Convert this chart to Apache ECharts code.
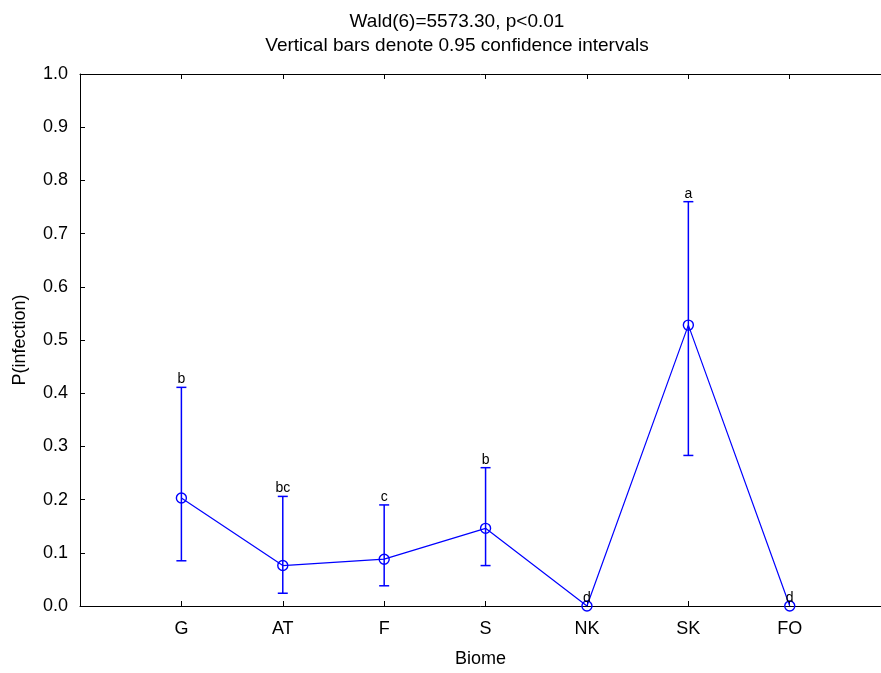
<!DOCTYPE html>
<html lang="en">
<head>
    <meta charset="UTF-8">
    <title>P(infection) by biome</title>
    <script src="https://cdn.jsdelivr.net/npm/echarts@6/dist/echarts.min.js"></script>
    <style>
        html, body { margin: 0; padding: 0; background: #fff; }
        #main { width: 881px; height: 673px; }
    </style>
</head>
<body>
<div id="main"></div>

<script type="text/javascript">
    // data
    var biomes = ['G', 'AT', 'F', 'S', 'NK', 'SK', 'FO'];
    var means = [0.203, 0.076, 0.088, 0.146, 0.0, 0.528, 0.0];
    var lower = [0.085, 0.024, 0.038, 0.076, 0.0, 0.283, 0.0];
    var upper = [0.411, 0.206, 0.190, 0.260, 0.0, 0.760, 0.0];
    var letters = ['b', 'bc', 'c', 'b', 'd', 'a', 'd'];

    var blue = '#0000ff';
    var font = 'Liberation Sans, Arial, sans-serif';

    var lineData = biomes.map(function (b, i) { return [i + 1, means[i]]; });
    var barData = biomes.map(function (b, i) { return [i + 1, lower[i], upper[i]]; });

    var myChart = echarts.init(document.getElementById('main'));

    myChart.setOption({
        animation: false,
        backgroundColor: '#fff',
        title: [{
            text: 'Wald(6)=5573.30, p<0.01',
            left: 452, top: 7, textAlign: 'center',
            textStyle: {fontFamily: font, fontSize: 19, fontWeight: 'normal', color: '#000'}
        }, {
            text: 'Vertical bars denote 0.95 confidence intervals',
            left: 452, top: 31, textAlign: 'center',
            textStyle: {fontFamily: font, fontSize: 19, fontWeight: 'normal', color: '#000'}
        }],
        // x runs 0..7.9 so that the right end falls on the canvas edge
        grid: {left: 80, top: 74, width: 801, height: 533},
        xAxis: [{
            type: 'value', min: 0, max: 7.9, interval: 1,
            name: 'Biome', nameLocation: 'middle', nameGap: 44,
            nameTextStyle: {fontFamily: font, fontSize: 18, color: '#000'},
            axisLine: {lineStyle: {color: '#000', width: 1}},
            axisTick: {inside: true, length: 5, lineStyle: {color: '#000'}},
            axisLabel: {
                fontFamily: font, fontSize: 18, color: '#000', margin: 14,
                showMaxLabel: false,
                formatter: function (v) { return biomes[v - 1] || ''; }
            },
            splitLine: {show: false}
        }, {
            type: 'value', position: 'top', min: 0, max: 7.9, interval: 1,
            axisLine: {lineStyle: {color: '#000', width: 1}},
            axisTick: {inside: true, length: 5, lineStyle: {color: '#000'}},
            axisLabel: {show: false},
            splitLine: {show: false}
        }],
        yAxis: [{
            type: 'value', min: 0, max: 1, interval: 0.1,
            name: 'P(infection)', nameLocation: 'middle', nameGap: 51, nameRotate: 90,
            nameTextStyle: {fontFamily: font, fontSize: 18, color: '#000'},
            axisLine: {show: true, lineStyle: {color: '#000', width: 1}},
            axisTick: {show: true, inside: true, length: 5, lineStyle: {color: '#000'}},
            axisLabel: {
                fontFamily: font, fontSize: 18, color: '#000', margin: 12,
                formatter: function (v) { return v.toFixed(1); }
            },
            splitLine: {show: false}
        }],
        series: [{
            name: 'P(infection)',
            type: 'line',
            data: lineData,
            symbol: 'circle',
            symbolSize: 10,
            lineStyle: {color: blue, width: 1.2},
            itemStyle: {color: 'transparent', borderColor: blue, borderWidth: 1.4},
            z: 3
        }, {
            name: 'CI',
            type: 'custom',
            data: barData,
            clip: false,
            renderItem: function (params, api) {
                var x = api.value(0);
                var lo = api.coord([x, api.value(1)]);
                var hi = api.coord([x, api.value(2)]);
                var style = {stroke: blue, lineWidth: 1.5};
                var children = [];
                if (api.value(2) > api.value(1)) {
                    children.push(
                        {type: 'line', shape: {x1: lo[0], y1: lo[1], x2: hi[0], y2: hi[1]}, style: style},
                        {type: 'line', shape: {x1: lo[0] - 5, y1: lo[1], x2: lo[0] + 5, y2: lo[1]}, style: style},
                        {type: 'line', shape: {x1: hi[0] - 5, y1: hi[1], x2: hi[0] + 5, y2: hi[1]}, style: style}
                    );
                }
                children.push({
                    type: 'text',
                    style: {
                        x: hi[0], y: hi[1] - 1,
                        text: letters[params.dataIndex],
                        textAlign: 'center', textVerticalAlign: 'bottom',
                        fontFamily: font, fontSize: 14, fill: '#000'
                    }
                });
                return {type: 'group', children: children};
            },
            z: 4
        }]
    });
</script>
</body>
</html>
